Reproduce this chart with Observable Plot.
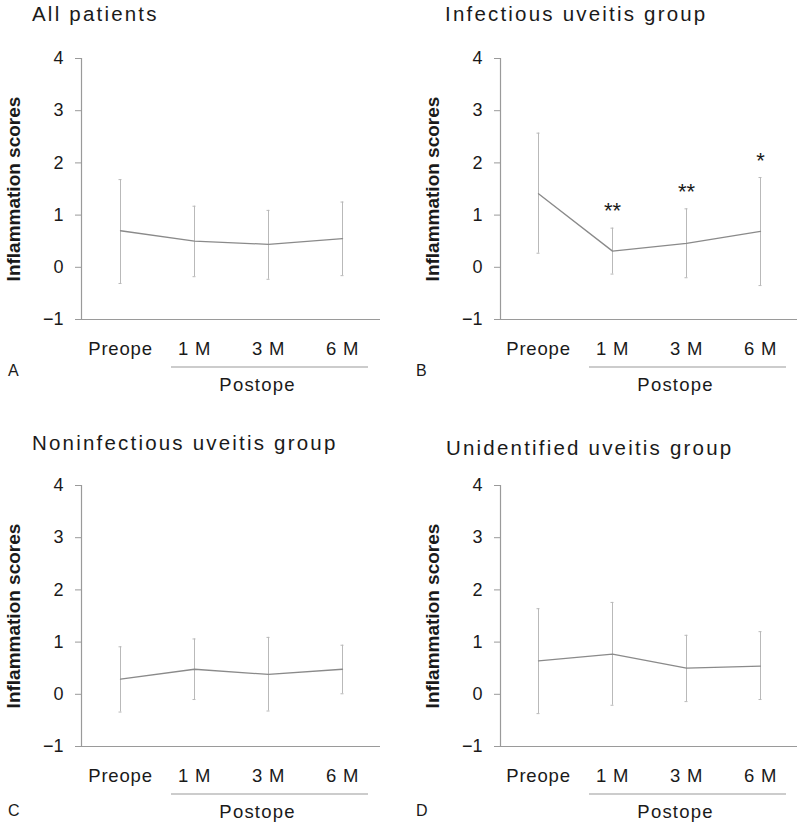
<!DOCTYPE html>
<html>
<head>
<meta charset="utf-8">
<script src="https://cdn.jsdelivr.net/npm/d3@7"></script>
<script src="https://cdn.jsdelivr.net/npm/@observablehq/plot@0.6"></script>
<style>
  html, body { margin: 0; padding: 0; background: #fff; }
  #wrap { position: relative; width: 800px; height: 827px; overflow: hidden; background: #fff;
          font-family: "Liberation Sans", Arial, sans-serif; color: #1a1a1a; }
  .panel { position: absolute; width: 400px; height: 400px; }
  .title { position: absolute; font-size: 20.5px; line-height: 20.5px; letter-spacing: 2.2px; white-space: nowrap; color: #1a1a1a; }
  .letter { position: absolute; font-size: 16px; line-height: 16px; color: #1a1a1a; }
  svg g[aria-label="y-axis label"] text { font-weight: bold; font-size: 19px; }
  svg g[aria-label="y-axis tick label"] text { font-size: 18px; }
  svg g[aria-label="x-axis tick label"] text { font-size: 18.5px; letter-spacing: 0.8px; }
  svg .postope text { font-size: 18.5px; letter-spacing: 1.2px; }
  svg .stars text { font-size: 22px; }
</style>
</head>
<body>
<div id="wrap"></div>
<script>
const categories = ["Preope", "1 M", "3 M", "6 M"];
const postCategories = ["1 M", "6 M"];
const yTicks = [-1, 0, 1, 2, 3, 4];
const yLabel = "Inflammation scores";
const postLabel = "Postope";

const titles = ["All patients", "Infectious uveitis group", "Noninfectious uveitis group", "Unidentified uveitis group"];
const letters = ["A", "B", "C", "D"];

const allMean = [0.70, 0.50, 0.44, 0.55];
const allHi   = [1.68, 1.17, 1.09, 1.25];
const allLo   = [-0.31, -0.18, -0.23, -0.16];

const infMean = [1.41, 0.31, 0.46, 0.69];
const infHi   = [2.57, 0.75, 1.12, 1.72];
const infLo   = [0.27, -0.13, -0.20, -0.35];
const infSig  = ["", "**", "**", "*"];

const nonMean = [0.29, 0.48, 0.38, 0.48];
const nonHi   = [0.91, 1.06, 1.09, 0.94];
const nonLo   = [-0.34, -0.10, -0.32, 0.01];

const uniMean = [0.64, 0.77, 0.50, 0.54];
const uniHi   = [1.64, 1.76, 1.13, 1.20];
const uniLo   = [-0.37, -0.21, -0.14, -0.10];

const panels = [
  {mean: allMean, hi: allHi, lo: allLo, sig: null,   left: 0,   top: 0,   ml: 81, mr: 20, tx: 32,  ty: 3.5, lx: 8,   ly: 363},
  {mean: infMean, hi: infHi, lo: infLo, sig: infSig, left: 400, top: 0,   ml: 100, mr: 3, tx: 445, ty: 3.5, lx: 416, ly: 363},
  {mean: nonMean, hi: nonHi, lo: nonLo, sig: null,   left: 0,   top: 427, ml: 81, mr: 20, tx: 32,  ty: 433, lx: 8,   ly: 803},
  {mean: uniMean, hi: uniHi, lo: uniLo, sig: null,   left: 400, top: 427, ml: 100, mr: 3, tx: 446, ty: 438, lx: 416, ly: 803}
];

const wrap = document.getElementById("wrap");
const axisColor = "#9a9a9a";
const fmt = d3.format("d");

panels.forEach((p, i) => {
  const rows = categories.map((c, k) => ({cat: c, mean: p.mean[k], hi: p.hi[k], lo: p.lo[k], sig: p.sig ? p.sig[k] : ""}));
  const marks = [
    Plot.ruleY([-1], {stroke: axisColor, strokeWidth: 1.2}),
    Plot.frame({anchor: "left", stroke: axisColor, strokeWidth: 1.2}),
    Plot.axisY({ticks: yTicks, tickFormat: fmt, tickSize: 6, tickPadding: 12, stroke: axisColor, fill: "#1a1a1a",
                label: yLabel, labelAnchor: "center", labelArrow: false, labelOffset: 75}),
    Plot.axisX({tickSize: 0, tickPadding: 22, label: null, fill: "#1a1a1a"}),
    Plot.ruleX(rows, {x: "cat", y1: "lo", y2: "hi", stroke: "#b9b9b9", strokeWidth: 1}),
    Plot.ruleY(rows, {x1: "cat", x2: "cat", y: "hi", stroke: "#b9b9b9", strokeWidth: 1, insetLeft: -1.5, insetRight: -1.5}),
    Plot.ruleY(rows, {x1: "cat", x2: "cat", y: "lo", stroke: "#b9b9b9", strokeWidth: 1, insetLeft: -1.5, insetRight: -1.5}),
    Plot.line(rows, {x: "cat", y: "mean", stroke: "#8a8a8a", strokeWidth: 1.3}),
    Plot.ruleY([-1], {x1: () => postCategories[0], x2: () => postCategories[1], dy: 47.5,
                      insetLeft: -23, insetRight: -26, stroke: axisColor, strokeWidth: 1.2}),
    Plot.text([postLabel], {x: () => categories[2], y: () => -1, text: d => d, dy: 66, dx: -11,
                            lineAnchor: "middle", fill: "#1a1a1a", className: "postope"})
  ];
  if (p.sig) {
    marks.push(Plot.text(rows.filter(d => d.sig), {x: "cat", y: "hi", text: "sig", dy: -17,
                          lineAnchor: "middle", fill: "#1a1a1a", className: "stars"}));
  }
  const chart = Plot.plot({
    width: 400, height: 400,
    marginTop: 58, marginBottom: 81, marginLeft: p.ml, marginRight: p.mr,
    style: {fontFamily: "'Liberation Sans', Arial, sans-serif", fontSize: "18px", background: "transparent", overflow: "visible", color: "#1a1a1a"},
    x: {type: "point", domain: categories, padding: 0.5, axis: null},
    y: {domain: [-1, 4], axis: null},
    marks
  });
  const holder = document.createElement("div");
  holder.className = "panel";
  holder.style.left = p.left + "px";
  holder.style.top = p.top + "px";
  holder.appendChild(chart);
  wrap.appendChild(holder);

  const t = document.createElement("div");
  t.className = "title";
  t.style.left = p.tx + "px";
  t.style.top = p.ty + "px";
  t.textContent = titles[i];
  wrap.appendChild(t);

  const l = document.createElement("div");
  l.className = "letter";
  l.style.left = p.lx + "px";
  l.style.top = p.ly + "px";
  l.textContent = letters[i];
  wrap.appendChild(l);
});
</script>
</body>
</html>
